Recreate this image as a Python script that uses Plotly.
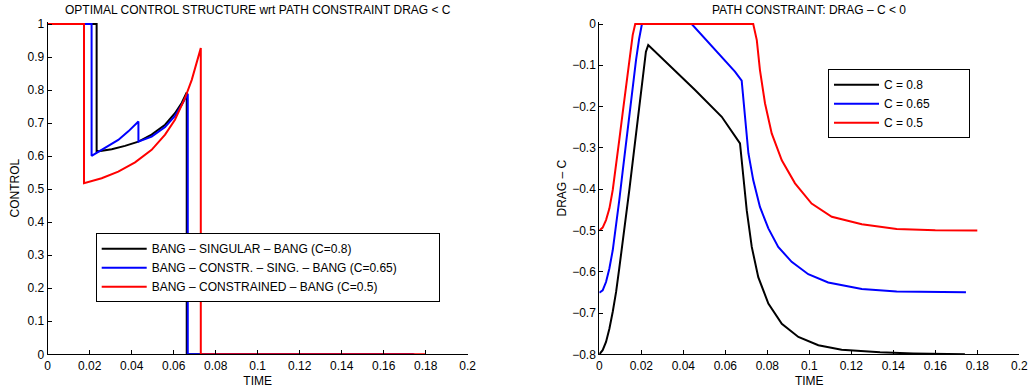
import plotly.graph_objects as go

# ---------------- data ----------------
# Left panel: optimal control u(t)
t_u_c08 = [0, 0.0233, 0.0233, 0.0305, 0.0368, 0.0432, 0.0495, 0.0559, 0.0606, 0.0638, 0.0662, 0.0662, 0.1741]
u_c08 = [1, 1, 0.614, 0.621, 0.631, 0.644, 0.665, 0.695, 0.730, 0.761, 0.793, 0, 0]

t_u_c065 = [0, 0.0209, 0.0209, 0.0273, 0.0336, 0.0384, 0.0432, 0.0432, 0.0495, 0.0559, 0.0606,
            0.0638, 0.0667, 0.0667, 0.1746]
u_c065 = [1, 1, 0.601, 0.624, 0.649, 0.675, 0.705, 0.644, 0.659, 0.688, 0.722,
          0.755, 0.789, 0, 0]

t_u_c05 = [0, 0.0173, 0.0173, 0.0257, 0.0336, 0.0416, 0.0495, 0.0559, 0.0606, 0.0654, 0.0686,
           0.0710, 0.0729, 0.0729, 0.1800]
u_c05 = [1, 1, 0.518, 0.533, 0.553, 0.581, 0.619, 0.665, 0.710, 0.776, 0.831,
         0.882, 0.927, 0, 0]

# Right panel: path constraint DRAG - C
t_g_c08 = [0, 0.0016, 0.0032, 0.0048, 0.0064, 0.0080, 0.0095, 0.0111, 0.0127, 0.0143, 0.0159,
           0.0175, 0.0190, 0.0207, 0.0222, 0.0233, 0.0456, 0.0583, 0.0670, 0.0686, 0.0702,
           0.0726, 0.0757, 0.0805, 0.0869, 0.0948, 0.1043, 0.1154, 0.1257, 0.1337, 0.1495, 0.1741]
g_c08 = [-0.800, -0.790, -0.770, -0.738, -0.697, -0.649, -0.592, -0.532, -0.467, -0.402, -0.334,
         -0.265, -0.196, -0.128, -0.067, -0.051, -0.160, -0.2247, -0.289, -0.370, -0.451,
         -0.540, -0.613, -0.677, -0.726, -0.758, -0.778, -0.789, -0.793, -0.795, -0.798, -0.800]

t_g_c065 = [0, 0.0016, 0.0032, 0.0048, 0.0064, 0.0080, 0.0095, 0.0111, 0.0127, 0.0143, 0.0159,
            0.0175, 0.0190, 0.0203, 0.0440, 0.0646, 0.0678, 0.0694, 0.0710, 0.0733, 0.0765,
            0.0805, 0.0852, 0.0916, 0.0995, 0.1090, 0.1250, 0.1416, 0.1600, 0.1746]
g_c065 = [-0.651, -0.645, -0.625, -0.592, -0.548, -0.491, -0.427, -0.358, -0.289, -0.2206, -0.152,
          -0.087, -0.035, 0, 0, -0.1155, -0.137, -0.233, -0.313, -0.378, -0.443,
          -0.495, -0.540, -0.576, -0.606, -0.626, -0.642, -0.648, -0.650, -0.650]

t_g_c05 = [0, 0.0016, 0.0032, 0.0048, 0.0064, 0.0080, 0.0095, 0.0111, 0.0127, 0.0143, 0.0159,
           0.0171, 0.0733, 0.0750, 0.0765, 0.0789, 0.0821, 0.0869, 0.0932, 0.1011, 0.1107,
           0.1250, 0.1416, 0.1600, 0.1800]
g_c05 = [-0.500, -0.493, -0.475, -0.447, -0.402, -0.346, -0.281, -0.2165, -0.152, -0.087, -0.027,
         0, 0, -0.039, -0.1115, -0.192, -0.265, -0.330, -0.386, -0.435, -0.467,
         -0.485, -0.4965, -0.4995, -0.500]

left_names = ["BANG – SINGULAR – BANG (C=0.8)",
              "BANG – CONSTR. – SING. – BANG (C=0.65)",
              "BANG – CONSTRAINED – BANG (C=0.5)"]
right_names = ["C = 0.8", "C = 0.65", "C = 0.5"]
colors = ["#000000", "#0000ff", "#ff0000"]

x_ticks = [0, 0.02, 0.04, 0.06, 0.08, 0.1, 0.12, 0.14, 0.16, 0.18, 0.2]
left_yticks = [0, 0.1, 0.2, 0.3, 0.4, 0.5, 0.6, 0.7, 0.8, 0.9, 1]
right_yticks = [-0.8, -0.7, -0.6, -0.5, -0.4, -0.3, -0.2, -0.1, 0]

# ---------------- layout geometry ----------------
W, H = 1029, 389
FONT = "Liberation Sans, Arial, Helvetica, sans-serif"
FS = 12
NBSP = "\u00a0"

def xdom(px0, px1):
    return [px0 / W, px1 / W]

def ydom(top_px, bot_px):
    return [(H - bot_px) / H, (H - top_px) / H]

fig = go.Figure()

# trailing non-breaking spaces only widen the legend box (as in the MATLAB legend)
left_data = [(t_u_c08, u_c08), (t_u_c065, u_c065), (t_u_c05, u_c05)]
for (tx, uy), nm, c in zip(left_data, left_names, colors):
    fig.add_trace(go.Scatter(x=tx, y=uy, mode="lines", name=nm + NBSP * 11,
                             line=dict(color=c, width=2),
                             xaxis="x", yaxis="y", legend="legend"))

right_data = [(t_g_c08, g_c08), (t_g_c065, g_c065), (t_g_c05, g_c05)]
for (tx, gy), nm, c in zip(right_data, right_names, colors):
    fig.add_trace(go.Scatter(x=tx, y=gy, mode="lines", name=nm + NBSP * 10,
                             line=dict(color=c, width=2),
                             xaxis="x2", yaxis="y2", legend="legend2"))

axis_common = dict(showline=True, linecolor="#000000", linewidth=1,
                   ticks="inside", ticklen=4, tickcolor="#000000",
                   showgrid=False, zeroline=False, mirror=False,
                   tickfont=dict(family=FONT, size=FS, color="#000000"),
                   automargin=False)

ytop_px = 22.0
ybot_px = 354.3

fig.update_layout(
    width=W, height=H,
    margin=dict(l=0, r=0, t=0, b=0),
    paper_bgcolor="white", plot_bgcolor="white",
    font=dict(family=FONT, size=FS, color="#000000"),
    xaxis=dict(domain=xdom(47.7, 467.7), range=[0, 0.2], tickvals=x_ticks,
               title=dict(text="TIME", standoff=4, font=dict(size=FS)),
               anchor="y", **axis_common),
    yaxis=dict(domain=ydom(ytop_px, ybot_px), range=[0, 1 + (24 - ytop_px) / 330.3],
               tickvals=left_yticks,
               title=dict(text="CONTROL", standoff=5, font=dict(size=FS)),
               anchor="x", **axis_common),
    xaxis2=dict(domain=xdom(599.3, 1019.3), range=[0, 0.2], tickvals=x_ticks,
                title=dict(text="TIME", standoff=4, font=dict(size=FS)),
                anchor="y2", **axis_common),
    yaxis2=dict(domain=ydom(ytop_px, ybot_px), range=[-0.8, (24 - ytop_px) / 412.5],
                tickvals=right_yticks,
                title=dict(text="DRAG – C", standoff=2, font=dict(size=FS)),
                anchor="x2", **axis_common),
    legend=dict(x=95.7 / W, y=(H - 233.3) / H, xanchor="left", yanchor="top",
                bgcolor="white", bordercolor="#000000", borderwidth=1,
                font=dict(family=FONT, size=FS, color="#000000"),
                tracegroupgap=0, itemwidth=45),
    legend2=dict(x=828 / W, y=(H - 69.3) / H, xanchor="left", yanchor="top",
                 bgcolor="white", bordercolor="#000000", borderwidth=1,
                 font=dict(family=FONT, size=FS, color="#000000"),
                 tracegroupgap=0, itemwidth=45),
    showlegend=True,
    annotations=[
        dict(text="OPTIMAL CONTROL STRUCTURE wrt PATH CONSTRAINT DRAG < C",
             x=(47.7 + 467.7) / 2 / W, y=(H - 10.5) / H, xref="paper", yref="paper",
             xanchor="center", yanchor="middle", showarrow=False,
             font=dict(family=FONT, size=FS, color="#000000")),
        dict(text="PATH CONSTRAINT: DRAG – C < 0",
             x=(599.3 + 1019.3) / 2 / W, y=(H - 10.5) / H, xref="paper", yref="paper",
             xanchor="center", yanchor="middle", showarrow=False,
             font=dict(family=FONT, size=FS, color="#000000")),
    ],
)

# remove the browser's default 8px body margin so the figure sits at the window origin
fig.write_html("out.html", config={"displayModeBar": False},
               post_script="document.body.style.margin='0';")
